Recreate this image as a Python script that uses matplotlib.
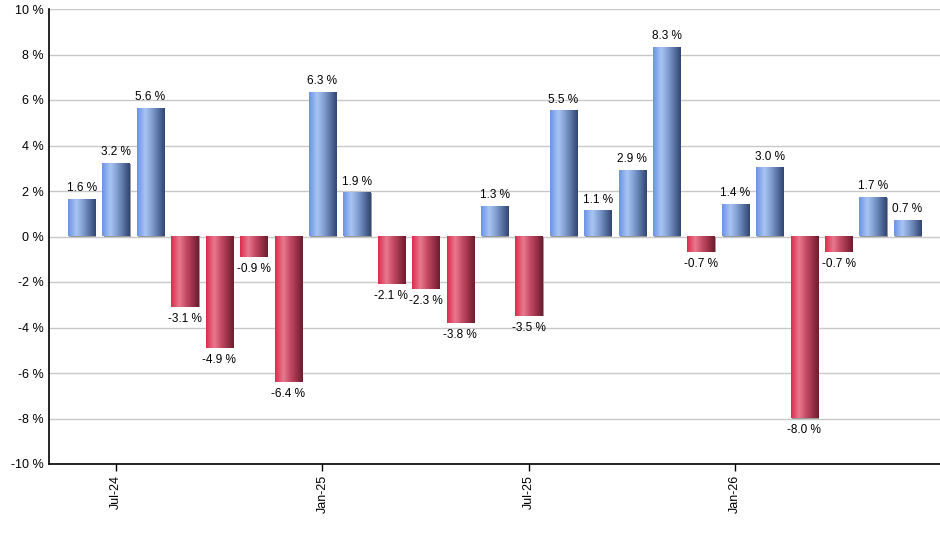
import numpy as np
import matplotlib
matplotlib.use("Agg")
import matplotlib.pyplot as plt
from matplotlib.colors import LinearSegmentedColormap

months = ["Jun-24", "Jul-24", "Aug-24", "Sep-24", "Oct-24", "Nov-24", "Dec-24",
          "Jan-25", "Feb-25", "Mar-25", "Apr-25", "May-25", "Jun-25", "Jul-25",
          "Aug-25", "Sep-25", "Oct-25", "Nov-25", "Dec-25", "Jan-26", "Feb-26",
          "Mar-26", "Apr-26", "May-26", "Jun-26"]
returns = [1.6, 3.2, 5.6, -3.1, -4.9, -0.9, -6.4, 6.3, 1.9, -2.1, -2.3, -3.8, 1.3,
           -3.5, 5.5, 1.1, 2.9, 8.3, -0.7, 1.4, 3.0, -8.0, -0.7, 1.7, 0.7]
tick_labels = ["Jul-24", "Jan-25", "Jul-25", "Jan-26"]
y_ticks = [-10, -8, -6, -4, -2, 0, 2, 4, 6, 8, 10]

plt.rcParams['font.family'] = ['Liberation Sans', 'DejaVu Sans']

fig = plt.figure(figsize=(9.4, 5.5), dpi=100)
ax = fig.add_axes([49/940, 86/550, 1 - 49/940, (464 - 9)/550])

blue_cmap = LinearSegmentedColormap.from_list(
    "b", [(0, "#6a93e6"), (0.3, "#a9c5f3"), (0.55, "#7f9cd0"), (0.93, "#3b5280"), (1.0, "#34476c")])
red_cmap = LinearSegmentedColormap.from_list(
    "r", [(0, "#dc2a4c"), (0.3, "#e8798f"), (0.55, "#c44a63"), (0.93, "#7a2236"), (1.0, "#6a1e2e")])

x = np.arange(len(returns))
width = 0.79
bars = ax.bar(x, returns, width=width, color="none", edgecolor="none", zorder=3)
grad = np.linspace(0, 1, 256).reshape(1, -1)
for b, v in zip(bars, returns):
    x0, y0 = b.get_x(), b.get_y()
    w, h = b.get_width(), b.get_height()
    ylo, yhi = min(y0, y0 + h), max(y0, y0 + h)
    # shadow
    ax.add_patch(plt.Rectangle((x0 + 0.03, ylo), w, yhi - ylo, color="#9a9a9a", zorder=2, lw=0))
    cmap = blue_cmap if v >= 0 else red_cmap
    ax.imshow(grad, cmap=cmap, aspect="auto", extent=(x0, x0 + w, ylo, yhi),
              zorder=3, interpolation="bilinear")
    label = f"{v:.1f} %"
    if v >= 0:
        ax.text(b.get_x() + w / 2, v + 0.25, label, ha="center", va="bottom", fontsize=8.5, zorder=4)
    else:
        ax.text(b.get_x() + w / 2, v - 0.25, label, ha="center", va="top", fontsize=8.5, zorder=4)

ax.set_xlim(-0.95, len(returns) - 0.05)
ax.set_ylim(-10, 10)
ax.set_yticks(y_ticks)
ax.set_yticklabels([f"{t} %" for t in y_ticks], fontsize=9)
ax.tick_params(axis="y", length=0, pad=4)
tick_pos = [months.index(t) for t in tick_labels]
ax.set_xticks(tick_pos)
ax.set_xticklabels(tick_labels, rotation=90, fontsize=9)
ax.tick_params(axis="x", length=5, width=1, color="black", pad=3)

ax.grid(axis="y", color="#c8c8c8", linewidth=1, zorder=0)
ax.set_axisbelow(True)
for s in ["top", "right"]:
    ax.spines[s].set_visible(False)
ax.spines["left"].set_color("black")
ax.spines["bottom"].set_color("black")
ax.spines["left"].set_linewidth(1.2)
ax.spines["bottom"].set_linewidth(1.2)

fig.savefig("out.png", dpi=100)
